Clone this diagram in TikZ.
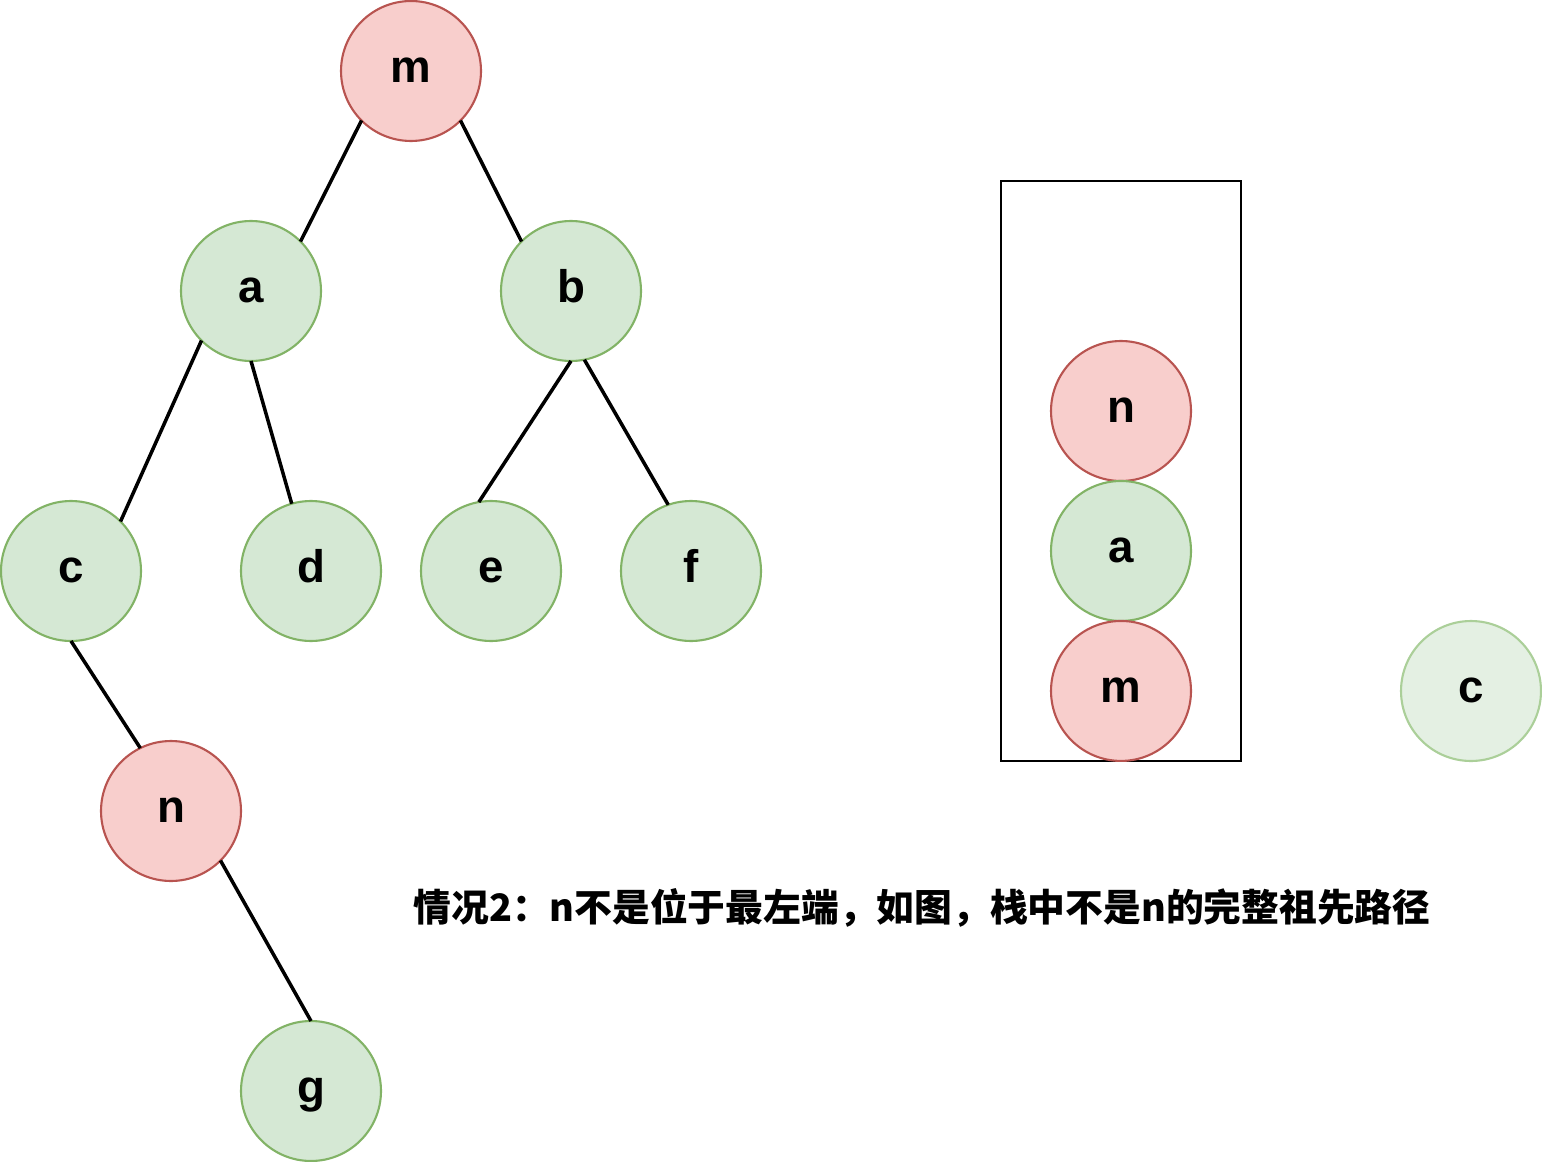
\documentclass[tikz,border=0pt]{standalone}
\usepackage{fontspec}
\setmainfont{Liberation Sans}
\newfontfamily\cjk{Noto Sans CJK SC}
\usetikzlibrary{positioning}
\definecolor{greenfill}{HTML}{D5E8D4}
\definecolor{greenline}{HTML}{82B366}
\definecolor{redfill}{HTML}{F8CECC}
\definecolor{redline}{HTML}{B85450}
\definecolor{fadefill}{HTML}{E4F0E3}
\definecolor{fadeline}{HTML}{ABCF99}
\tikzset{
  treenode/.style={
    circle,
    draw=greenline,
    fill=greenfill,
    line width=1.2pt,
    inner sep=0pt,
    outer sep=0pt,
    minimum size=2.8cm,
    text height=13.5pt,
    text depth=0pt,
    font=\fontsize{26pt}{28pt}\selectfont\bfseries
  },
  pathnode/.style={
    treenode,
    draw=redline,
    fill=redfill
  },
  fadednode/.style={
    treenode,
    draw=fadeline,
    fill=fadefill
  },
  stackbox/.style={
    rectangle,
    draw=black,
    line width=1.2pt,
    minimum width=4.8cm,
    minimum height=11.6cm
  },
  link/.style={line width=2pt, draw=black},
  caption/.style={font=\cjk\bfseries\fontsize{21.5pt}{24pt}\selectfont}
}
\begin{document}
\begin{tikzpicture}[x=0.02cm, y=-0.02cm]
  \useasboundingbox (0,0) rectangle (1542,1162);

  % tree
  \node[pathnode] (m) at (411,71) {m};
  \node[treenode] (a) at (251,291) {a};
  \node[treenode] (b) at (571,291) {b};
  \node[treenode] (c) at (71,571) {c};
  \node[treenode] (d) at (311,571) {d};
  \node[treenode] (e) at (491,571) {e};
  \node[treenode] (f) at (691,571) {f};
  \node[pathnode] (n) at (171,811) {n};
  \node[treenode] (g) at (311,1091) {g};

  \draw[link] (m.225) -- (a.45);
  \draw[link] (m.-45) -- (b.135);
  \draw[link] (a.225) -- (c.45);
  \draw[link] (a.south) -- (d.106);
  \draw[link] (b.south) -- (e.100);
  \draw[link] (b.-79) -- (f.109);
  \draw[link] (c.south) -- (n.116);
  \draw[link] (n.-45) -- (g.north);

  % stack
  \node[stackbox] (stack) at (1121,471) {};
  \node[pathnode] (stackn) at (1121,411) {n};
  \node[treenode, below=0pt of stackn] (stacka) {a};
  \node[pathnode, below=0pt of stacka] (stackm) {m};

  \node[fadednode] (popc) at (1471,691) {c};

  \node[caption] (note) at (922,908) {情况2：n不是位于最左端，如图，栈中不是n的完整祖先路径};
\end{tikzpicture}
\end{document}
